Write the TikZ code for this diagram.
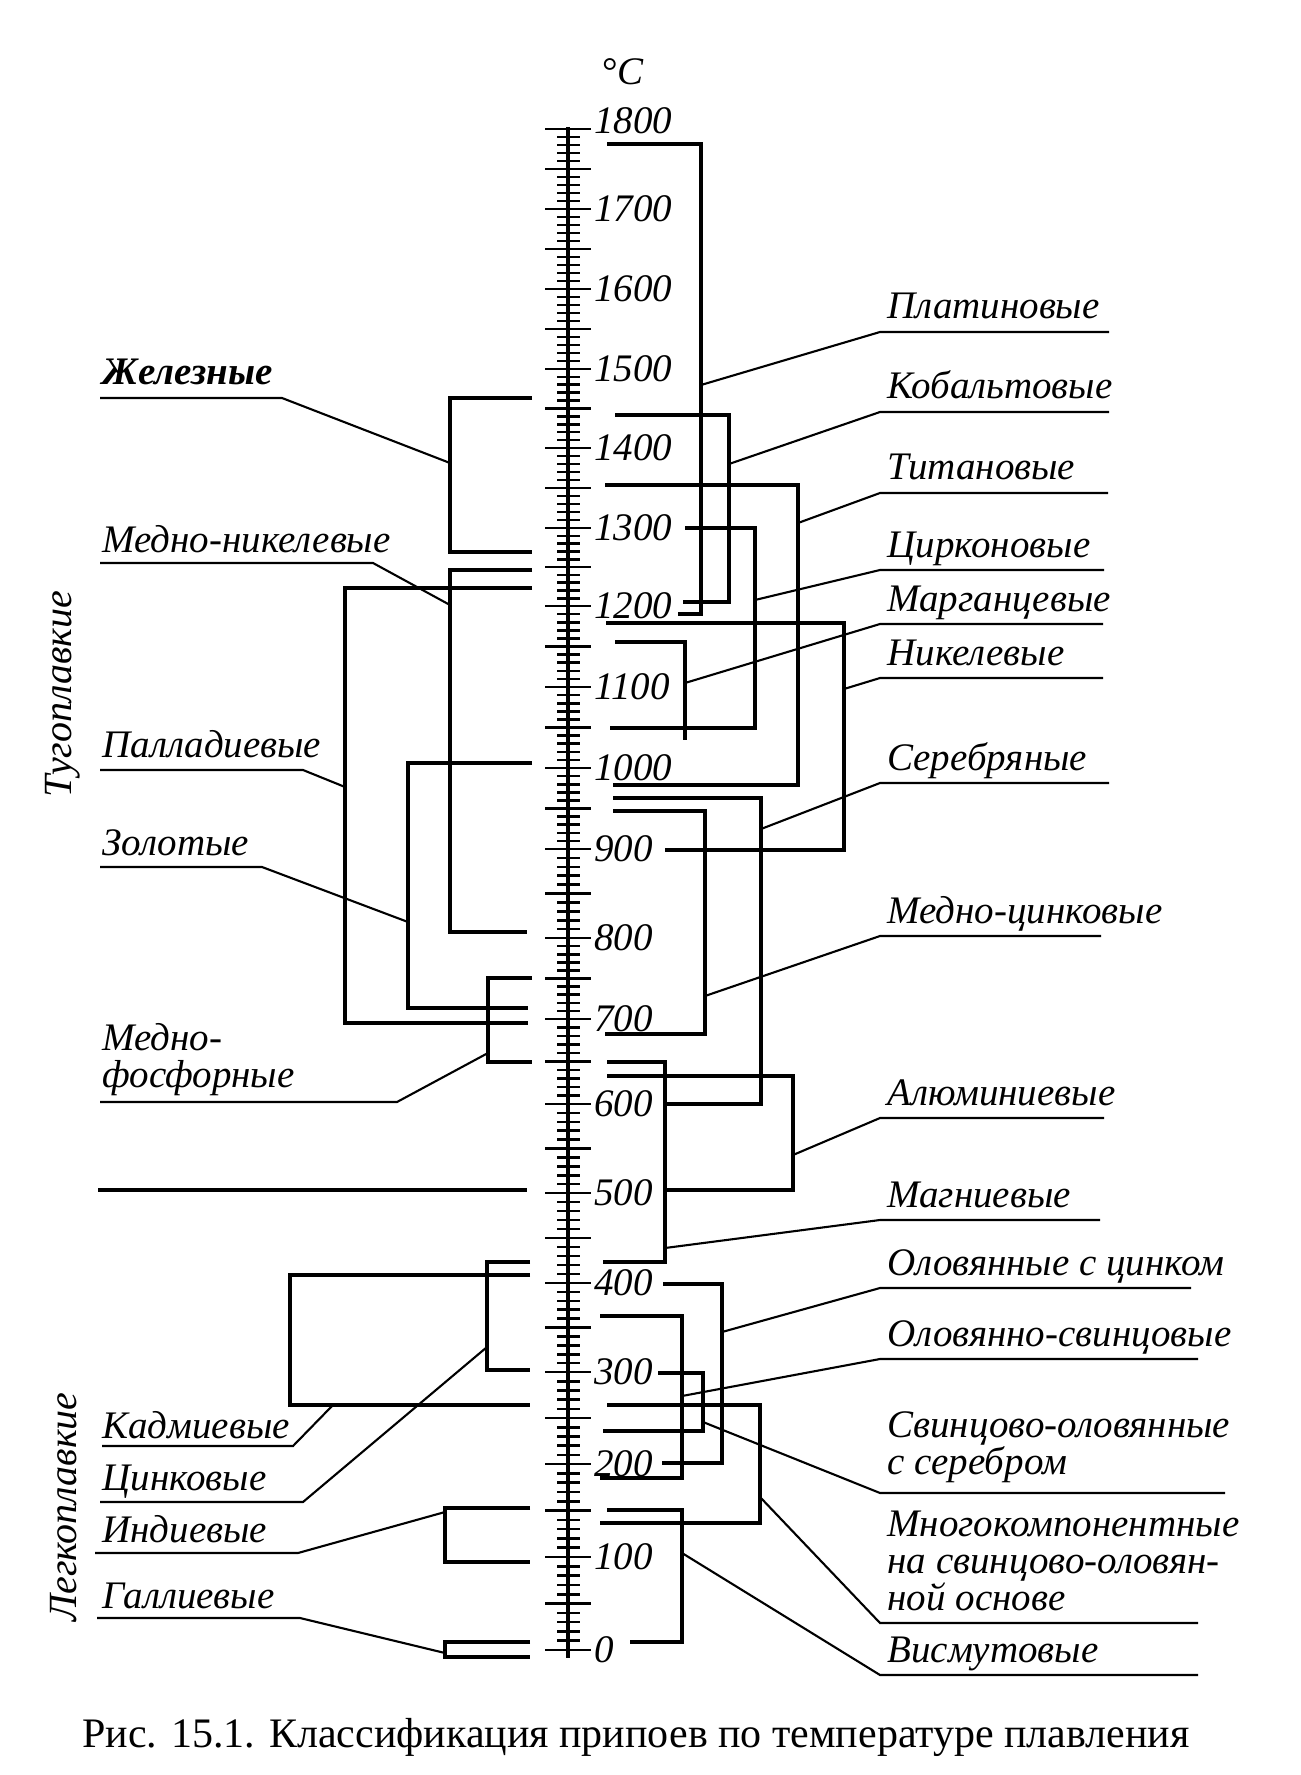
\documentclass[tikz,border=0pt]{standalone}
\usepackage{fontspec}
\setmainfont{Liberation Serif}

\tikzset{
  lab/.style={font=\itshape\fontsize{19.5}{18.5}\selectfont, inner sep=0pt, anchor=base west, align=left},
  num/.style={font=\itshape\fontsize{19.5}{22}\selectfont, inner sep=0pt, anchor=west},
  brk/.style={line width=1.6pt},
  lead/.style={line width=1.05pt},
  tick/.style={line width=1.3pt},
}

\begin{document}
\begin{tikzpicture}[x=0.5pt,y=-0.5pt]
		\useasboundingbox (0,0) rectangle (1300,1775);

		% Shkala
		\draw[line width=2.2pt] (568,127) -- (568,1658);
		\foreach \tc/\ya/\yb in {0/1650/1557, 100/1557/1464, 200/1464/1372, 300/1372/1283,
			400/1283/1193, 500/1193/1104, 600/1104/1019, 700/1019/938, 800/938/849,
			900/849/768, 1000/768/687, 1100/687/606, 1200/606/528, 1300/528/448,
			1400/448/369, 1500/369/289, 1600/289/209, 1700/209/129}
		{
			\draw[tick] (545,\ya) -- (591,\ya);
			\draw[tick] (545,{(\ya+\yb)/2}) -- (591,{(\ya+\yb)/2});
			\foreach \k in {1,2,3,4,6,7,8,9}
				\draw[tick] (557,{\ya+(\yb-\ya)*\k/10}) -- (580,{\ya+(\yb-\ya)*\k/10});
			\node[num] (t\tc) at (594,\ya) {\tc};
		}
		\draw[tick] (545,129) -- (591,129);
		\node[num] (t1800) at (594,121) {1800};
		\node[font=\fontsize{19.5}{22}\selectfont] (unit) at (623,72) {°\textit{C}};

		% Skoby sprava
		\draw[brk] (607,144) -| (701,614) -- (678,614);
		\draw[brk] (615,415) -| (729,602) -- (683,602);
		\draw[brk] (605,485) -| (798,785) -- (613,785);
		\draw[brk] (685,528) -| (755,728) -- (610,728);
		\draw[brk] (615,642) -| (685,740);
		\draw[brk] (606,623) -| (844,850) -- (665,850);
		\draw[brk] (613,798) -| (761,1104) -- (665,1104);
		\draw[brk] (613,811) -| (705,1034) -- (605,1034);
		\draw[brk] (607,1076) -| (793,1190) -- (663,1190);
		\draw[brk] (607,1062) -| (665,1262) -- (603,1262);
		\draw[brk] (663,1284) -| (722,1463) -- (662,1463);
		\draw[brk] (600,1316) -| (682,1478) -- (600,1478);
		\draw[brk] (658,1373) -| (703,1431) -- (603,1431);
		\draw[brk] (607,1405) -| (760,1523) -- (600,1523);
		\draw[brk] (607,1510) -| (682,1642) -- (630,1642);

		% Skoby sleva
		\draw[brk] (532,398) -| (450,552) -- (532,552);
		\draw[brk] (532,570) -| (450,932) -- (527,932);
		\draw[brk] (532,588) -| (345,1023) -- (528,1023);
		\draw[brk] (532,763) -| (408,1008) -- (528,1008);
		\draw[brk] (532,978) -| (488,1062) -- (532,1062);
		\draw[brk] (98,1190) -- (527,1190);
		\draw[brk] (530,1275) -| (290,1405) -- (530,1405);
		\draw[brk] (530,1262) -| (487,1370) -- (530,1370);
		\draw[brk] (530,1508) -| (445,1562) -- (530,1562);
		\draw[brk] (530,1642) -| (445,1657) -- (530,1657);

		% Podpisi sprava
		\node[lab] (Pt) at (887,319) {Платиновые};
		\node[lab] (Co) at (887,399) {Кобальтовые};
		\node[lab] (Ti) at (887,480) {Титановые};
		\node[lab] (Zr) at (887,557) {Цирконовые};
		\node[lab] (Mn) at (887,611) {Марганцевые};
		\node[lab] (Ni) at (887,665) {Никелевые};
		\node[lab] (Ag) at (887,770) {Серебряные};
		\node[lab] (CuZn) at (887,923) {Медно-цинковые};
		\node[lab] (Al) at (887,1105) {Алюминиевые};
		\node[lab] (Mg) at (887,1207) {Магниевые};
		\node[lab] (SnZn) at (887,1275) {Оловянные с цинком};
		\node[lab] (SnPb) at (887,1346) {Оловянно-свинцовые};
		\node[lab] (PbSnAg) at (887,1474) {Свинцово-оловянные\\с серебром};
		\node[lab] (Multi) at (887,1610) {Многокомпонентные\\на свинцово-оловян-\\ной основе};
		\node[lab] (Bi) at (887,1662) {Висмутовые};

		% Podpisi sleva
		\node[lab, font=\bfseries\itshape\fontsize{19.5}{18.5}\selectfont] (Fe) at (102,385) {Железные};
		\node[lab] (CuNi) at (102,552) {Медно-никелевые};
		\node[lab] (Pd) at (102,757) {Палладиевые};
		\node[lab] (Au) at (102,855) {Золотые};
		\node[lab] (CuP) at (102,1087) {Медно-\\фосфорные};
		\node[lab] (Cd) at (102,1438) {Кадмиевые};
		\node[lab] (Zn) at (102,1490) {Цинковые};
		\node[lab] (In) at (102,1542) {Индиевые};
		\node[lab] (Ga) at (102,1608) {Галлиевые};

		\node[rotate=90, font=\itshape\fontsize{20}{24}\selectfont] (tug) at (63,694) {Тугоплавкие};
		\node[rotate=90, font=\itshape\fontsize{20}{24}\selectfont] (leg) at (64,1507) {Легкоплавкие};

		% Vynoski sprava
		\coordinate (Pt-s) at (701,385);  \coordinate (Pt-k) at (880,332);  \coordinate (Pt-e) at (1109,332);
		\coordinate (Co-s) at (729,464);  \coordinate (Co-k) at (880,412);  \coordinate (Co-e) at (1109,412);
		\coordinate (Ti-s) at (798,523);  \coordinate (Ti-k) at (880,493);  \coordinate (Ti-e) at (1108,493);
		\coordinate (Zr-s) at (755,600);  \coordinate (Zr-k) at (880,570);  \coordinate (Zr-e) at (1104,570);
		\coordinate (Mn-s) at (685,683);  \coordinate (Mn-k) at (880,624);  \coordinate (Mn-e) at (1103,624);
		\coordinate (Ni-s) at (844,689);  \coordinate (Ni-k) at (880,678);  \coordinate (Ni-e) at (1103,678);
		\coordinate (Ag-s) at (761,829);  \coordinate (Ag-k) at (880,783);  \coordinate (Ag-e) at (1109,783);
		\coordinate (CuZn-s) at (705,996);  \coordinate (CuZn-k) at (880,936);  \coordinate (CuZn-e) at (1101,936);
		\coordinate (Al-s) at (793,1155);  \coordinate (Al-k) at (880,1118);  \coordinate (Al-e) at (1104,1118);
		\coordinate (Mg-s) at (665,1248);  \coordinate (Mg-k) at (880,1220);  \coordinate (Mg-e) at (1100,1220);
		\coordinate (SnZn-s) at (722,1332);  \coordinate (SnZn-k) at (880,1288);  \coordinate (SnZn-e) at (1191,1288);
		\coordinate (SnPb-s) at (682,1396);  \coordinate (SnPb-k) at (880,1359);  \coordinate (SnPb-e) at (1198,1359);
		\coordinate (PbSnAg-s) at (703,1422);  \coordinate (PbSnAg-k) at (880,1493);  \coordinate (PbSnAg-e) at (1225,1493);
		\coordinate (Multi-s) at (760,1497);  \coordinate (Multi-k) at (880,1623);  \coordinate (Multi-e) at (1198,1623);
		\coordinate (Bi-s) at (682,1553);  \coordinate (Bi-k) at (880,1675);  \coordinate (Bi-e) at (1198,1675);
		\foreach \n in {Pt,Co,Ti,Zr,Mn,Ni,Ag,CuZn,Al,Mg,SnZn,SnPb,PbSnAg,Multi,Bi}
			\draw[lead] (\n-s) -- (\n-k) -- (\n-e);

		% Vynoski sleva
		\coordinate (Fe-s) at (450,463);  \coordinate (Fe-k) at (282,398);  \coordinate (Fe-e) at (100,398);
		\coordinate (CuNi-s) at (450,605);  \coordinate (CuNi-k) at (373,563);  \coordinate (CuNi-e) at (100,563);
		\coordinate (Pd-s) at (345,787);  \coordinate (Pd-k) at (303,770);  \coordinate (Pd-e) at (100,770);
		\coordinate (Au-s) at (408,922);  \coordinate (Au-k) at (262,867);  \coordinate (Au-e) at (100,867);
		\coordinate (CuP-s) at (488,1053);  \coordinate (CuP-k) at (397,1102);  \coordinate (CuP-e) at (100,1102);
		\coordinate (Cd-s) at (333,1405);  \coordinate (Cd-k) at (293,1446);  \coordinate (Cd-e) at (102,1446);
		\coordinate (Zn-s) at (487,1347);  \coordinate (Zn-k) at (303,1502);  \coordinate (Zn-e) at (100,1502);
		\coordinate (In-s) at (445,1512);  \coordinate (In-k) at (298,1553);  \coordinate (In-e) at (95,1553);
		\coordinate (Ga-s) at (445,1653);  \coordinate (Ga-k) at (300,1618);  \coordinate (Ga-e) at (97,1618);
		\foreach \n in {Fe,CuNi,Pd,Au,CuP,Cd,Zn,In,Ga}
			\draw[lead] (\n-s) -- (\n-k) -- (\n-e);

		% Podpis risunka
		\node[font=\fontsize{21}{25}\selectfont] (cap) at (636,1737) {Рис. 15.1. Классификация припоев по температуре плавления};

	\end{tikzpicture}
\end{document}
